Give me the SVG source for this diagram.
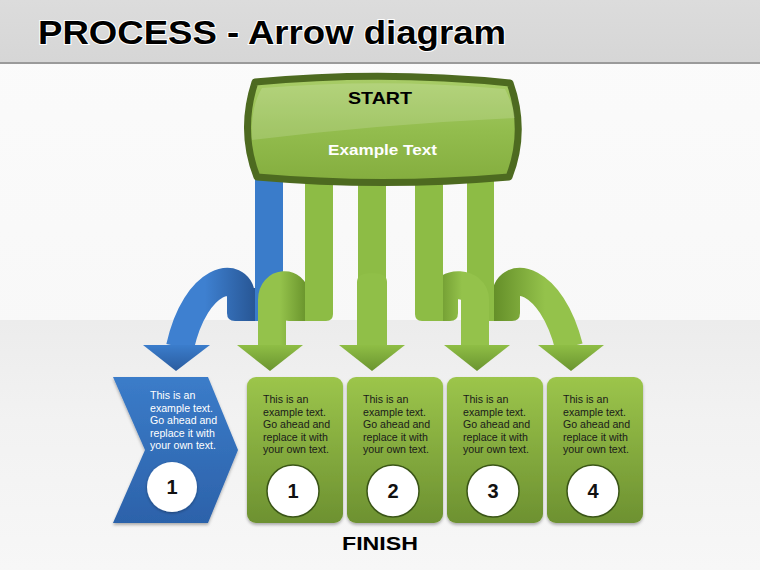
<svg xmlns="http://www.w3.org/2000/svg" width="760" height="570" viewBox="0 0 760 570">
<style>
.t{font-family:"Liberation Sans",Arial,sans-serif}
.b{font-weight:bold}
.body{font-family:"Liberation Sans",Arial,sans-serif;font-size:10.6px}
.rb{fill:none;stroke-width:28}
.gs{fill:#8dbc45}
.num{font-family:"Liberation Sans",Arial,sans-serif;font-weight:bold;font-size:20px;text-anchor:middle;fill:#111}
.gc{fill:#fff;stroke:#3a5517;stroke-width:1.5}
</style>
<defs>
<linearGradient id="bg" x1="0" y1="0" x2="0" y2="1"><stop offset="0" stop-color="#fbfbfb"/><stop offset="1" stop-color="#f6f6f6"/></linearGradient>
<linearGradient id="low" x1="0" y1="320" x2="0" y2="570" gradientUnits="userSpaceOnUse"><stop offset="0" stop-color="#ececec"/><stop offset="0.4" stop-color="#f2f2f2"/><stop offset="1" stop-color="#f7f7f7"/></linearGradient>
<linearGradient id="hdr" x1="0" y1="0" x2="0" y2="1"><stop offset="0" stop-color="#dcdcdc"/><stop offset="1" stop-color="#d6d6d6"/></linearGradient>
<linearGradient id="sg" x1="0" y1="0" x2="0" y2="1"><stop offset="0" stop-color="#a9cd68"/><stop offset="0.5" stop-color="#93bd4e"/><stop offset="1" stop-color="#84ad3e"/></linearGradient>
<linearGradient id="gbox" x1="0" y1="0" x2="0" y2="1"><stop offset="0" stop-color="#9cc54b"/><stop offset="1" stop-color="#6d9131"/></linearGradient>
<linearGradient id="bbox" x1="0" y1="0" x2="0" y2="1"><stop offset="0" stop-color="#3b7cc9"/><stop offset="1" stop-color="#2c62aa"/></linearGradient>
<linearGradient id="gh" x1="0" y1="0" x2="0" y2="1"><stop offset="0" stop-color="#8fbe45"/><stop offset="1" stop-color="#6a9430"/></linearGradient>
<linearGradient id="bh" x1="0" y1="0" x2="0" y2="1"><stop offset="0" stop-color="#3b7dcc"/><stop offset="1" stop-color="#2a5c9f"/></linearGradient>
<linearGradient id="ba" x1="254" y1="0" x2="205" y2="0" gradientUnits="userSpaceOnUse"><stop offset="0" stop-color="#285796"/><stop offset="1" stop-color="#3e80d0"/></linearGradient>
<linearGradient id="g1" x1="309" y1="0" x2="280" y2="0" gradientUnits="userSpaceOnUse"><stop offset="0" stop-color="#658f29"/><stop offset="1" stop-color="#94c24b"/></linearGradient>
<linearGradient id="g3" x1="432" y1="0" x2="462" y2="0" gradientUnits="userSpaceOnUse"><stop offset="0" stop-color="#658f29"/><stop offset="1" stop-color="#94c24b"/></linearGradient>
<linearGradient id="g4" x1="494" y1="0" x2="545" y2="0" gradientUnits="userSpaceOnUse"><stop offset="0" stop-color="#658f29"/><stop offset="1" stop-color="#94c24b"/></linearGradient>
<filter id="sh" x="-20%" y="-20%" width="140%" height="140%"><feDropShadow dx="0" dy="2" stdDeviation="1.5" flood-color="#000" flood-opacity="0.3"/></filter>
<filter id="csh" x="-30%" y="-30%" width="160%" height="160%"><feDropShadow dx="0" dy="1" stdDeviation="1.5" flood-color="#000" flood-opacity="0.35"/></filter>
</defs>

<rect width="760" height="570" fill="url(#bg)"/>
<rect y="320" width="760" height="250" fill="url(#low)"/>
<rect width="760" height="62" fill="url(#hdr)"/>
<rect y="62" width="760" height="2" fill="#9a9a9a"/>
<text class="t b" x="38" y="44" font-size="33" textLength="468" lengthAdjust="spacingAndGlyphs" fill="#000" stroke="#fff" stroke-width="2" paint-order="stroke">PROCESS - Arrow diagram</text>

<g id="connectors">
  <!-- blue arrow -->
  <path fill="url(#ba)" d="M227,288 V313 Q227,321 235,321 H262 V288 Z"/>
  <path class="rb" stroke="url(#ba)" d="M241,296 C240,270 196,276 180,347"/>
  <path fill="#3a7cca" d="M255,180 H283 V314 Q283,321 276,321 H255 Z"/>
  <polygon fill="url(#bh)" points="143,345 210,345 176,371"/>
  <!-- green arrow 1 -->
  <path fill="url(#g1)" d="M281,288 V313 Q281,321 289,321 H318 V288 Z"/>
  <path class="rb" stroke="url(#g1)" d="M295,296 C295,281 272,281 272,300 V347"/>
  <path class="gs" d="M305,180 H333 V314 Q333,321 326,321 H305 Z"/>
  <polygon fill="url(#gh)" points="237,345 303,345 270,371"/>
  <!-- green arrow 2 -->
  <path class="rb" stroke="#8dbc45" d="M372,180 V347"/>
  <path fill="#90bf48" d="M357,347 V282 Q357,273 372,273 Q387,273 387,282 V347 Z"/>
  <polygon fill="url(#gh)" points="339,345 405,345 372,371"/>
  <!-- green arrow 4 (behind arrow 3) -->
  <path fill="url(#g4)" d="M520,288 V313 Q520,321 512,321 H481 V288 Z"/>
  <path class="rb" stroke="url(#g4)" d="M506,296 C507,270 551,276 569,347"/>
  <path class="gs" d="M467,180 H494 V321 H474 Q467,321 467,314 Z"/>
  <polygon fill="url(#gh)" points="538,345 604,345 571,371"/>
  <!-- green arrow 3 -->
  <path fill="url(#g3)" d="M458,288 V313 Q458,321 450,321 H429 V288 Z"/>
  <path class="rb" stroke="url(#g3)" d="M444,296 C444,281 475,281 475,300 V347"/>
  <path class="gs" d="M415,180 H443 V321 H422 Q415,321 415,314 Z"/>
  <polygon fill="url(#gh)" points="444,345 510,345 477,371"/>
</g>

<g id="start">
  <path d="M255,82 Q383,70 510,83 Q527,131 509,177 Q383,188 257,177 Q239,131 255,82 Z" fill="url(#sg)" stroke="#4d6a20" stroke-width="7" stroke-linejoin="round"/>
  <path d="M262,88 Q383,78 505,89 Q513,105 515,118 Q383,124 252,140 Q250,108 262,88 Z" fill="#fff" opacity="0.15"/>
  <text class="t b" x="348" y="104" font-size="16.5" textLength="64" lengthAdjust="spacingAndGlyphs" fill="#000">START</text>
  <text class="t b" x="328" y="155" font-size="15" textLength="109" lengthAdjust="spacingAndGlyphs" fill="#fff">Example Text</text>
</g>

<g id="step-blue">
  <polygon points="113,377 208,377 238,450 208,523 113,523 145,450" fill="url(#bbox)" filter="url(#sh)"/>
  <text class="body" fill="#fff"><tspan x="150" y="399">This is an</tspan><tspan x="150" y="411.5">example text.</tspan><tspan x="150" y="424">Go ahead and</tspan><tspan x="150" y="436.5">replace it with</tspan><tspan x="150" y="449">your own text.</tspan></text>
  <circle cx="172" cy="487" r="25" fill="#fff" filter="url(#csh)"/>
  <text class="num" x="172" y="494">1</text>
</g>

<g id="step-1">
  <rect x="247" y="377" width="96" height="146" rx="9" fill="url(#gbox)" filter="url(#sh)"/>
  <text class="body" fill="#1a1a1a"><tspan x="263" y="403">This is an</tspan><tspan x="263" y="415.5">example text.</tspan><tspan x="263" y="428">Go ahead and</tspan><tspan x="263" y="440.5">replace it with</tspan><tspan x="263" y="453">your own text.</tspan></text>
  <circle class="gc" cx="293" cy="491" r="26"/>
  <text class="num" x="293" y="498">1</text>
</g>

<g id="step-2">
  <rect x="347" y="377" width="96" height="146" rx="9" fill="url(#gbox)" filter="url(#sh)"/>
  <text class="body" fill="#1a1a1a"><tspan x="363" y="403">This is an</tspan><tspan x="363" y="415.5">example text.</tspan><tspan x="363" y="428">Go ahead and</tspan><tspan x="363" y="440.5">replace it with</tspan><tspan x="363" y="453">your own text.</tspan></text>
  <circle class="gc" cx="393" cy="491" r="26"/>
  <text class="num" x="393" y="498">2</text>
</g>

<g id="step-3">
  <rect x="447" y="377" width="96" height="146" rx="9" fill="url(#gbox)" filter="url(#sh)"/>
  <text class="body" fill="#1a1a1a"><tspan x="463" y="403">This is an</tspan><tspan x="463" y="415.5">example text.</tspan><tspan x="463" y="428">Go ahead and</tspan><tspan x="463" y="440.5">replace it with</tspan><tspan x="463" y="453">your own text.</tspan></text>
  <circle class="gc" cx="493" cy="491" r="26"/>
  <text class="num" x="493" y="498">3</text>
</g>

<g id="step-4">
  <rect x="547" y="377" width="96" height="146" rx="9" fill="url(#gbox)" filter="url(#sh)"/>
  <text class="body" fill="#1a1a1a"><tspan x="563" y="403">This is an</tspan><tspan x="563" y="415.5">example text.</tspan><tspan x="563" y="428">Go ahead and</tspan><tspan x="563" y="440.5">replace it with</tspan><tspan x="563" y="453">your own text.</tspan></text>
  <circle class="gc" cx="593" cy="491" r="26"/>
  <text class="num" x="593" y="498">4</text>
</g>

<g id="finish">
  <text class="t b" x="342" y="550" font-size="19" textLength="76" lengthAdjust="spacingAndGlyphs" fill="#000">FINISH</text>
</g>
</svg>
